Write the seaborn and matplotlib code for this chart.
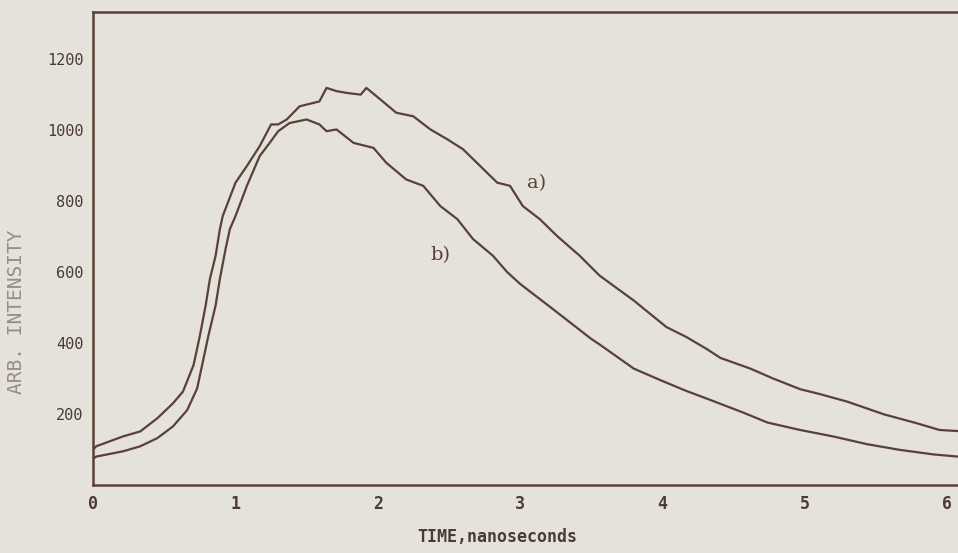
import pandas as pd
import seaborn as sns
import matplotlib.pyplot as plt

# curve a) - the upper, slower one
time_a = [0.0, 0.02, 0.21, 0.33, 0.45, 0.56, 0.63, 0.705, 0.75, 0.79, 0.82, 0.86, 0.89,
          0.91, 1.0, 1.08, 1.17, 1.25, 1.30, 1.36, 1.45, 1.59, 1.64, 1.71, 1.78, 1.88, 1.92,
          2.02, 2.13, 2.25, 2.37, 2.49, 2.60, 2.72, 2.84, 2.93, 3.02, 3.14, 3.26, 3.42, 3.56,
          3.69, 3.80, 3.87, 4.03, 4.17, 4.31, 4.41, 4.62, 4.78, 4.97, 5.11, 5.30, 5.56, 5.79,
          5.95, 6.08]
inten_a = [100, 109, 137, 151, 188, 230, 263, 338, 422, 506, 581, 646, 721,
           758, 852, 899, 955, 1016, 1016, 1030, 1067, 1081, 1119, 1110, 1105, 1100, 1119,
           1086, 1049, 1039, 1002, 974, 946, 899, 852, 843, 786, 749, 702, 646, 590,
           552, 520, 497, 445, 417, 384, 358, 328, 300, 270, 256, 235, 199, 174,
           155, 152]

# curve b) - the lower, faster one
time_b = [0.0, 0.02, 0.21, 0.33, 0.45, 0.56, 0.66, 0.73, 0.77, 0.81, 0.86, 0.89, 0.93,
          0.96, 1.0, 1.08, 1.17, 1.24, 1.30, 1.38, 1.50, 1.59, 1.64, 1.71, 1.83, 1.97,
          2.06, 2.20, 2.32, 2.44, 2.56, 2.67, 2.81, 2.91, 3.0, 3.25, 3.5, 3.56, 3.80, 3.99,
          4.17, 4.31, 4.57, 4.74, 4.97, 5.20, 5.44, 5.67, 5.91, 6.08]
inten_b = [75, 80, 95, 109, 132, 165, 211, 272, 347, 422, 506, 581, 665,
           721, 758, 843, 927, 964, 997, 1020, 1030, 1016, 997, 1002, 964, 950,
           908, 861, 843, 786, 749, 693, 646, 600, 567, 490, 412, 396, 328, 295,
           265, 244, 204, 176, 155, 137, 115, 99, 86, 80]

x_ticks = [0, 1, 2, 3, 4, 5, 6]
y_ticks = [200, 400, 600, 800, 1000, 1200]

df = pd.concat([
    pd.DataFrame({'time': time_a, 'intensity': inten_a, 'curve': 'a)'}),
    pd.DataFrame({'time': time_b, 'intensity': inten_b, 'curve': 'b)'}),
])

paper = '#e4e2da'
ink = '#5b4035'

sns.set_theme(style="white")
plt.rcParams['font.family'] = ['DejaVu Sans Mono', 'DejaVu Sans']

fig = plt.figure(figsize=(9.58, 5.53), dpi=100, facecolor=paper)
ax = fig.add_axes([0.0974, 0.123, 0.9026, 0.856])
ax.set_facecolor(paper)

sns.lineplot(data=df, x='time', y='intensity', hue='curve', palette=[ink, ink],
             sort=False, estimator=None, linewidth=1.6, legend=False, ax=ax)

ax.text(3.12, 850, 'a)', fontsize=14, color=ink, ha='center', va='center', family='DejaVu Serif')
ax.text(2.44, 648, 'b)', fontsize=14, color=ink, ha='center', va='center', family='DejaVu Serif')

ax.set_xlim(0, 6.08)
ax.set_ylim(0, 1334)
ax.set_xticks(x_ticks)
ax.set_yticks(y_ticks)
ax.tick_params(direction='in', length=8, width=1.5, color=ink, labelcolor='#4a3b33',
               labelsize=11, pad=7)
ax.tick_params(axis='x', labelsize=12)
for lbl in ax.get_xticklabels():
    lbl.set_fontweight('bold')

for side in ['left', 'bottom', 'top']:
    ax.spines[side].set_color(ink)
    ax.spines[side].set_linewidth(1.8)
ax.spines['right'].set_visible(False)

ax.set_xlabel('TIME,nanoseconds', fontsize=12, color='#4a3b33', fontweight='bold')
ax.xaxis.set_label_coords(0.467, -0.09)
ax.set_ylabel('ARB. INTENSITY', fontsize=14, color='#9a8c82')
ax.yaxis.set_label_coords(-0.078, 0.366)

fig.savefig('out.png', dpi=100, facecolor=paper)
